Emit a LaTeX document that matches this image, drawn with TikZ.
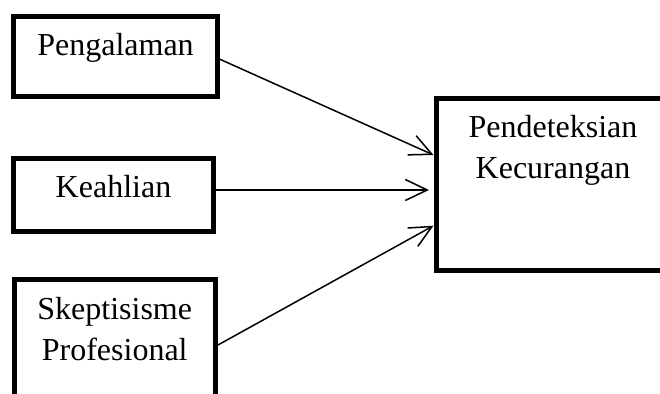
\documentclass[tikz,border=0pt]{standalone}
\usepackage{fontspec}
\setmainfont{Liberation Serif}
\usetikzlibrary{arrows.meta,positioning}
\tikzset{
  kotak/.style={draw,line width=2.5pt,inner sep=0pt},
  tulisan/.style={inner sep=0pt,align=center,font=\fontsize{16}{20.5}\selectfont},
  panah/.style={line width=0.75pt,-{Straight Barb[length=11pt,width=10.5pt]}},
}
\begin{document}
\begin{tikzpicture}[x=0.5pt,y=-0.5pt]
  \useasboundingbox (0,0) rectangle (660,394);
  \clip (0,0) rectangle (660,394);
  % variabel bebas
  \node[kotak,minimum width=102pt,minimum height=40pt] (p) at (115.5,56.5) {};
  \node[kotak,minimum width=100pt,minimum height=36.5pt] (k) at (113.5,194.6) {};
  \node[kotak,minimum width=100.75pt,minimum height=65pt] (s) at (114.75,345) {};
  % variabel terikat
  \node[kotak,minimum width=117pt,minimum height=86.15pt] (d) at (553,184.4) {};
  \node[tulisan,below=9.7pt of p.north] (tp) {Pengalaman};
  \node[tulisan,below=9.7pt of k.north] (tk) {Keahlian};
  \node[tulisan,below=9.7pt of s.north] (ts) {Skeptisisme\\Profesional};
  \node[tulisan,below=9.7pt of d.north] (td) {Pendeteksian\\Kecurangan};
  \draw[panah] ([yshift=-1.4pt]p.east) -- ([yshift=14.7pt]d.west);
  \draw[panah] ([yshift=2.3pt]k.east) -- ([xshift=-2.25pt,yshift=-2.8pt]d.west);
  \draw[panah] (s.east) -- ([yshift=-20.65pt]d.west);
\end{tikzpicture}
\end{document}
